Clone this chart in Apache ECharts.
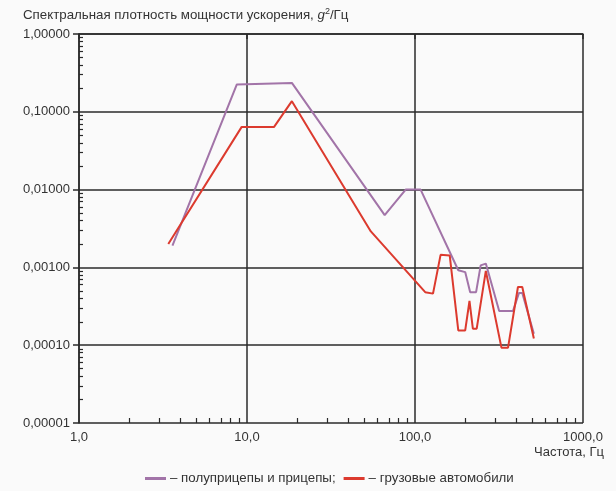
<!DOCTYPE html>
<html>
<head>
<meta charset="utf-8">
<script src="https://cdn.jsdelivr.net/npm/echarts@6/dist/echarts.min.js"></script>
<style>
  html, body { margin: 0; padding: 0; background: #fafafa; }
  #chart { width: 616px; height: 491px; }
</style>
</head>
<body>
<div id="chart"></div>
<script>
// названия серий (в легенде)
const seriesNames = ['полуприцепы и прицепы', 'грузовые автомобили'];

// полуприцепы и прицепы: [частота, Гц ; g^2/Гц]
const trailerData = [
  [3.6, 0.0019], [8.7, 0.225], [18.5, 0.235], [66, 0.0047], [88, 0.01],
  [108, 0.01], [181, 0.00092], [199, 0.00087], [213, 0.00048], [231, 0.00048],
  [246, 0.00106], [264, 0.00112], [317, 0.000275], [383, 0.000275],
  [416, 0.00047], [435, 0.00047], [510, 0.00014]
];

// грузовые автомобили
const truckData = [
  [3.4, 0.002], [9.3, 0.064], [14.5, 0.064], [18.5, 0.137], [54.6, 0.0029],
  [115, 0.00048], [128, 0.00046], [142, 0.00145], [161, 0.00142],
  [181, 0.000155], [199, 0.000155], [211, 0.00037], [221, 0.000163],
  [233, 0.000163], [264, 0.0009], [327, 0.000093], [358, 0.000093],
  [410, 0.00056], [435, 0.00056], [510, 0.000122]
];

// промежуточные деления (2..9 в каждой декаде)
const mantissas = [2, 3, 4, 5, 6, 7, 8, 9];
const xDecades = [1, 10, 100];
const yDecades = [0.00001, 0.0001, 0.001, 0.01, 0.1];

const minorX = [];
xDecades.forEach(d => mantissas.forEach(m => minorX.push(Math.log10(m * d))));
const minorY = [];
yDecades.forEach(d => mantissas.forEach(m => minorY.push(Math.log10(m * d))));

const lineColor = '#2a2a2a';
const textColor = '#333';
const font = 'Liberation Sans, Arial, sans-serif';

var myChart = echarts.init(document.getElementById('chart'));

var option = {
  backgroundColor: '#fafafa',
  textStyle: { fontFamily: font },
  title: [
    {
      text: 'Спектральная плотность мощности ускорения, {i|g}{s|2}/Гц',
      left: 23,
      top: 7,
      padding: 0,
      textStyle: {
        fontSize: 13.3,
        fontWeight: 'normal',
        color: textColor,
        fontFamily: font,
        rich: {
          i: { fontSize: 13.3, fontStyle: 'italic', color: textColor, fontFamily: font },
          s: { fontSize: 9, color: textColor, fontFamily: font, padding: [0, 0, 7, 0] }
        }
      }
    },
    {
      text: 'Частота, Гц',
      right: 12,
      top: 446,
      padding: 0,
      textStyle: { fontSize: 13, fontWeight: 'normal', color: textColor, fontFamily: font }
    }
  ],
  legend: {
    top: 467,
    left: 140,
    icon: 'rect',
    itemWidth: 21,
    itemHeight: 3,
    itemGap: 8,
    textStyle: { fontSize: 13.3, color: textColor, fontFamily: font, padding: [0, 0, 0, -1] },
    formatter: function (name) {
      return '– ' + name + (name === seriesNames[0] ? ';' : '');
    },
    data: seriesNames
  },
  grid: {
    left: 79,
    right: 33,
    top: 34,
    bottom: 68,
    outerBoundsMode: 'none'
  },
  xAxis: [
    {
      type: 'log',
      logBase: 10,
      min: 1,
      max: 1000,
      axisLine: { show: true, lineStyle: { color: lineColor, width: 1.5 } },
      axisTick: { show: true, length: 5, lineStyle: { color: lineColor, width: 1.5 } },
      axisLabel: {
        margin: 8,
        fontSize: 13,
        color: textColor,
        formatter: v => v.toFixed(1).replace('.', ',')
      },
      splitLine: { show: true, lineStyle: { color: lineColor, width: 1.5 } }
    },
    {
      type: 'value',
      min: 0,
      max: 3,
      position: 'bottom',
      axisLine: { show: false },
      axisLabel: { show: false },
      splitLine: { show: false },
      axisTick: {
        show: true,
        inside: true,
        length: 5,
        customValues: minorX,
        lineStyle: { color: lineColor, width: 1.2 }
      }
    }
  ],
  yAxis: [
    {
      type: 'log',
      logBase: 10,
      min: 0.00001,
      max: 1,
      axisLine: { show: true, lineStyle: { color: lineColor, width: 1.5 } },
      axisTick: { show: true, length: 6, lineStyle: { color: lineColor, width: 1.5 } },
      axisLabel: {
        margin: 9,
        fontSize: 13,
        color: textColor,
        formatter: v => v.toFixed(5).replace('.', ',')
      },
      splitLine: { show: true, lineStyle: { color: lineColor, width: 1.5 } }
    },
    {
      type: 'value',
      min: -5,
      max: 0,
      position: 'left',
      axisLine: { show: false },
      axisLabel: { show: false },
      splitLine: { show: false },
      axisTick: {
        show: true,
        inside: true,
        length: 4,
        customValues: minorY,
        lineStyle: { color: lineColor, width: 1.2 }
      }
    }
  ],
  series: [
    {
      name: seriesNames[0],
      type: 'line',
      xAxisIndex: 0,
      yAxisIndex: 0,
      data: trailerData,
      symbol: 'none',
      color: '#a274a8',
      lineStyle: { width: 2, color: '#a274a8' }
    },
    {
      name: seriesNames[1],
      type: 'line',
      xAxisIndex: 0,
      yAxisIndex: 0,
      data: truckData,
      symbol: 'none',
      color: '#dc3a2e',
      lineStyle: { width: 2, color: '#dc3a2e' }
    }
  ]
};

myChart.setOption(option);
</script>
</body>
</html>
